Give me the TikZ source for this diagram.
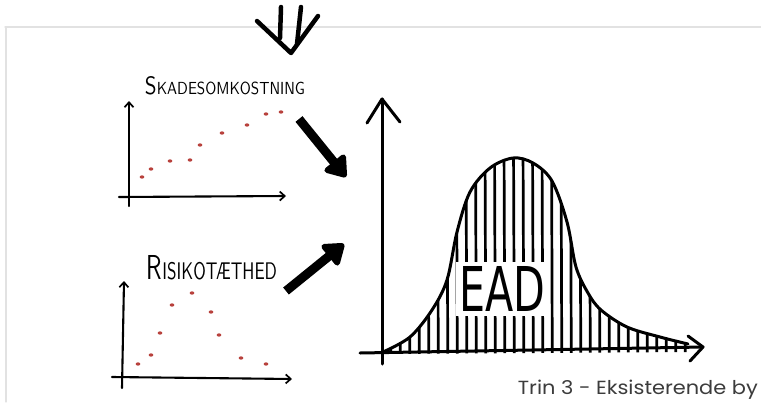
\documentclass[tikz,border=0pt]{standalone}
\usepackage{fontspec}
\usepackage{graphicx}
\newfontfamily\captionfont{Poppins}
\newfontfamily\eadfont{DejaVu Sans}
\usetikzlibrary{arrows.meta}
\definecolor{framec}{HTML}{E2E2E2}
\definecolor{dotc}{HTML}{B8413C}
\definecolor{capc}{HTML}{3C3C3C}
\begin{document}
\begin{tikzpicture}[x=1pt,y=-1pt,line cap=round,line join=round,
  ink/.style={line width=2.1pt,black},
  smallaxis/.style={ink,-{Straight Barb[length=5pt,width=9pt,line width=1.7pt]}},
  bigink/.style={line width=3pt,black},
  fatarrow/.style={line width=9pt,black,line cap=butt,-{Triangle[length=22pt,width=30pt,round]}},
  topink/.style={line width=4.5pt,black},
  hatch/.style={line width=2.7pt,black},
  reddot/.style={fill=dotc,draw=none},
  handlabel/.style={inner sep=0pt,font=\sffamily},
  caption/.style={inner sep=0pt,font=\captionfont\fontsize{19}{21}\selectfont,text=capc}]
\useasboundingbox (0,0) rectangle (761,402);
\fill[white] (0,0) rectangle (761,402);
% frame
\draw[framec,line width=1.3pt] (5,27) -- (761,27);
\draw[framec,line width=1.3pt] (6,27) -- (6,402);
% top arrow
\coordinate (t1a) at (281,7); \coordinate (t1b) at (280,38);
\coordinate (t2a) at (301,7); \coordinate (t2b) at (297,44);
\coordinate (cl) at (257,21); \coordinate (cv) at (291,53); \coordinate (cr) at (318,16);
\draw[topink] (t1a) -- (t1b);
\draw[topink] (t2a) -- (t2b);
\draw[topink] (cl) -- (cv) -- (cr);
% labels
\node[handlabel] (lab1) at (225,86) {\resizebox{160pt}{18pt}{{\Large S}KADESOMKOSTNING}};
\node[handlabel] (lab2) at (212,268) {\resizebox{130pt}{24pt}{{\Large R}ISIKOTÆTHED}};
% chart 1
\coordinate (c1yb) at (129,206); \coordinate (c1yt) at (129,101);
\coordinate (c1xl) at (119,197); \coordinate (c1xr) at (286,196);
\draw[smallaxis] (c1yb) -- (c1yt);
\draw[smallaxis] (c1xl) -- (c1xr);
\foreach \p in {(142,177),(151,169),(170,161),(190,160),(200,145),(222,133),(247,125),(266,114),(281,112)}
  \fill[reddot] \p ellipse (2.3pt and 1.7pt);
% chart 2
\coordinate (c2yb) at (122,388); \coordinate (c2yt) at (124,281);
\coordinate (c2xl) at (112,377); \coordinate (c2xr) at (292,379);
\draw[smallaxis] (c2yb) -- (c2yt);
\draw[smallaxis] (c2xl) -- (c2xr);
\foreach \p in {(138,364),(151,355),(160,333),(172,305),(192,293),(211,312),(219,335),(241,358),(266,364)}
  \fill[reddot] \p ellipse (2.3pt and 1.7pt);
% fat arrows
\coordinate (fa1s) at (299,119); \coordinate (fa1e) at (346,177);
\coordinate (fa2s) at (286,291); \coordinate (fa2e) at (344,244);
\draw[fatarrow] (fa1s) -- (fa1e);
\draw[fatarrow] (fa2s) -- (fa2e);
% big chart axes
\coordinate (byb) at (382,364); \coordinate (byt) at (382,99);
\coordinate (bxl) at (360,353); \coordinate (bxr) at (703,347);
\draw[bigink] (byb) -- (byt);
\draw[bigink] (367,123) -- (byt) -- (400,122);
\draw[bigink] (bxl) -- (bxr);
\draw[bigink] (688,336) -- (bxr) -- (690,361);
% bell curve + hatching
\def\bell{(383,352) (410,337) (432,310) (447,280) (457,232) (470,192) (490,168) (513,158) (533,163) (552,181) (567,222) (576,267) (588,293) (601,310) (627,327) (660,337) (688,344)}
\begin{scope}
  \clip plot[smooth,tension=0.55] coordinates {\bell} -- (688,352) -- (383,354) -- cycle;
  \foreach \x in {390,399.5,...,690}
    \draw[hatch] (\x,140) -- (\x+0.8,360);
  \fill[white] (456,262) rectangle (548,316);
\end{scope}
\draw[bigink] plot[smooth,tension=0.55] coordinates {\bell};
\node[inner sep=0pt,font=\eadfont] (ead) at (502,289) {\resizebox{86pt}{45pt}{EAD}};
% caption
\node[caption,anchor=base east] (cap) at (758,394) {\scalebox{1.1}[1]{Trin 3 - Eksisterende by}};
\end{tikzpicture}
\end{document}
